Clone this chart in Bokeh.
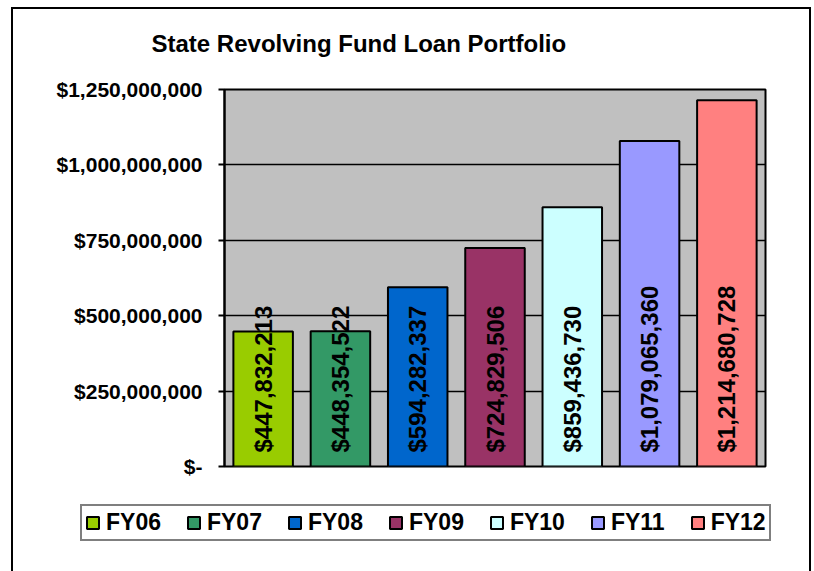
from math import pi
from bokeh.plotting import figure
from bokeh.layouts import column, row
from bokeh.models import ColumnDataSource, FixedTicker, Legend, LegendItem, Title
from bokeh.core.properties import value
from bokeh.embed import file_html
from bokeh.resources import INLINE

years = ["FY06", "FY07", "FY08", "FY09", "FY10", "FY11", "FY12"]
loans = [447832213, 448354522, 594282337, 724829506, 859436730, 1079065360, 1214680728]
colors = ["#99CC00", "#339966", "#0066CC", "#993366", "#CCFFFF", "#9999FF", "#FF8080"]
y_ticks = [0, 250000000, 500000000, 750000000, 1000000000, 1250000000]


def money(v):
    return "$-" if v == 0 else "${:,}".format(v)


src = ColumnDataSource(dict(year=years, loan=loans, color=colors,
                            label=[money(v) for v in loans]))

FONT = "Liberation Sans"
W = 796
p = figure(x_range=years, y_range=(0, 1250000000), width=W, height=470,
           output_backend="svg", toolbar_location=None,
           min_border_left=211, min_border_right=44,
           min_border_top=80, min_border_bottom=13)

p.background_fill_color = "#C0C0C0"
p.border_fill_color = "white"
p.outline_line_color = "black"
p.outline_line_width = 2

# spacer between plot area and title
p.add_layout(Title(text=" ", text_font_size="10px", standoff=20), "above")
p.title.text = "State Revolving Fund Loan Portfolio"
p.title.align = "left"
p.title.offset = -73
p.title.standoff = 0
p.title.text_font = FONT
p.title.text_font_style = "bold"
p.title.text_font_size = "24px"
p.title.text_color = "black"

p.xaxis.visible = False
p.xgrid.visible = False
p.ygrid.ticker = FixedTicker(ticks=y_ticks)
p.ygrid.grid_line_color = "black"
p.ygrid.grid_line_width = 1.5

ya = p.yaxis[0]
ya.ticker = FixedTicker(ticks=y_ticks)
ya.major_label_overrides = {t: money(t) for t in y_ticks}
ya.major_label_text_font = FONT
ya.major_label_text_font_style = "bold"
ya.major_label_text_font_size = "21px"
ya.major_label_text_color = "black"
ya.axis_line_color = "black"
ya.axis_line_width = 2
ya.major_tick_line_color = "black"
ya.major_tick_line_width = 2
ya.major_tick_out = 6
ya.major_tick_in = 0
ya.minor_tick_line_color = None
ya.major_label_standoff = 16

p.vbar(x="year", top="loan", bottom=0, width=0.77, fill_color="color",
       line_color="black", line_width=2, source=src)

p.text(x="year", y=0, text="label", angle=pi / 2, text_align="left",
       text_baseline="middle", y_offset=-14, text_font=value(FONT),
       text_font_style="bold", text_font_size="24px", text_color="black",
       source=src)

# legend strip below the plot area (its bar renderer is hidden, only the legend shows)
p2 = figure(x_range=years, y_range=(0, 1250000000), width=W, height=92,
            output_backend="svg", toolbar_location=None,
            min_border_left=0, min_border_right=0,
            min_border_top=0, min_border_bottom=0)
p2.axis.visible = False
p2.grid.visible = False
p2.outline_line_color = None
p2.background_fill_color = "white"
p2.border_fill_color = "white"
r2 = p2.vbar(x="year", top="loan", bottom=0, width=0.77, fill_color="color",
             line_color="black", line_width=2, source=src)
r2.visible = False

items = [LegendItem(label=y, renderers=[r2], index=i) for i, y in enumerate(years)]
legend = Legend(items=items, orientation="horizontal", location=(67, 30),
                margin=0, padding=3, spacing=25, label_standoff=6,
                glyph_width=15, glyph_height=15,
                label_text_font=FONT, label_text_font_style="bold",
                label_text_font_size="23px", label_text_color="black",
                border_line_color="black", border_line_width=2,
                background_fill_color="white", background_fill_alpha=1,
                inactive_fill_alpha=0, click_policy="none")
p2.add_layout(legend, "center")

layout = column(p, row(p2), spacing=0,
                styles={"border-left": "2px solid black",
                        "border-top": "2px solid black",
                        "border-right": "2px solid black",
                        "margin-left": "11px", "margin-top": "7px"})

open("out.html", "w").write(file_html(layout, INLINE))
